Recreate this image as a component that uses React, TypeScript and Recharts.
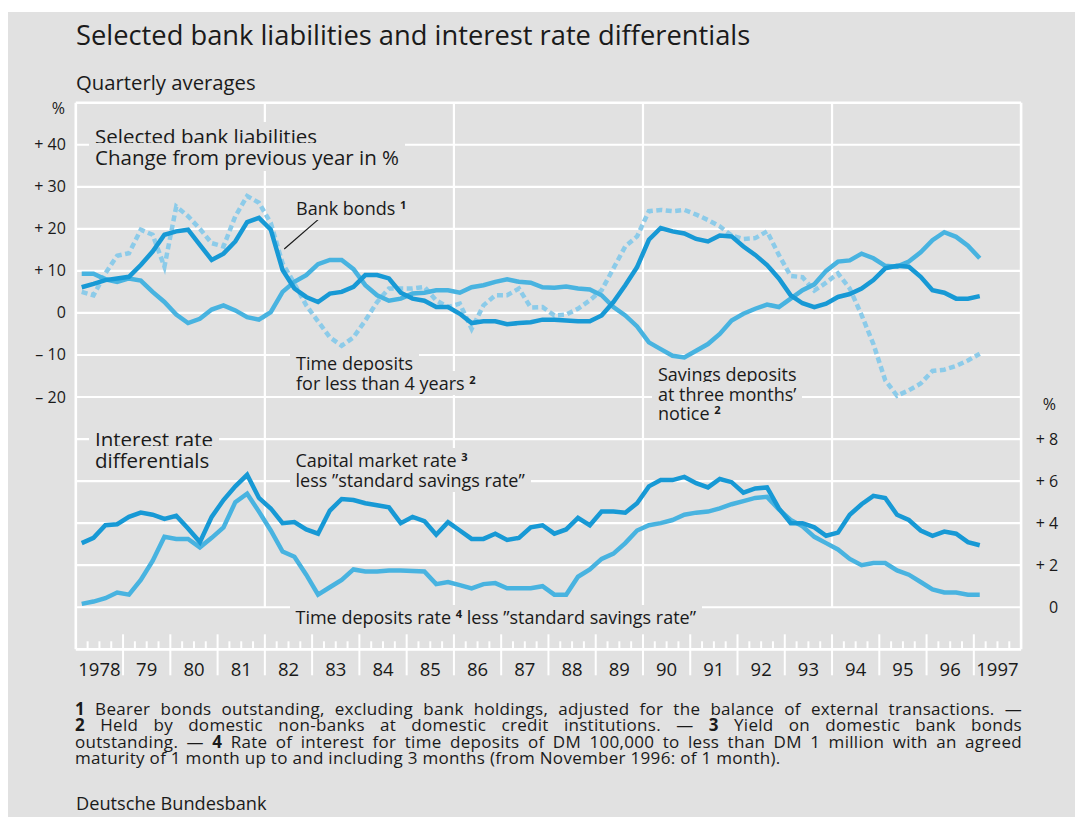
import React from "react"
import { LineChart, Line, XAxis, YAxis, ReferenceLine } from "recharts"

// quarterly averages, 1978 Q1 to 1997 Q1
const startYear = 1978
const endYear = 1998

// Selected bank liabilities, change from previous year in %
const bankBonds = [
  6.1, 6.9, 7.8, 8.2, 8.6, 11.4, 14.6, 18.6, 19.4, 19.8, 16.2, 12.6, 14.1, 17.0, 21.6, 22.6, 19.8, 10.2, 5.8, 3.8, 2.6,
  4.6, 5.0, 6.2, 9.0, 9.0, 8.2, 4.8, 3.4, 2.9, 1.4, 1.4, -0.2, -2.4, -2.0, -2.0, -2.7, -2.4, -2.2, -1.6, -1.6, -1.8,
  -2.0, -2.0, -0.6, 2.6, 6.6, 10.9, 17.4, 20.2, 19.4, 18.9, 17.6, 17.0, 18.4, 18.2, 15.8, 13.8, 11.4, 8.2, 4.2, 2.3,
  1.4, 2.2, 3.8, 4.5, 5.8, 7.8, 10.6, 11.2, 11.0, 8.6, 5.4, 4.8, 3.4, 3.4, 4.0,
]
const timeDeposits = [
  9.3, 9.3, 8.0, 7.4, 8.2, 7.7, 5.0, 2.6, -0.4, -2.4, -1.4, 0.8, 1.8, 0.6, -1.0, -1.6, 0.2, 5.0, 7.4, 9.0, 11.6,
  12.6, 12.6, 10.4, 6.6, 4.2, 2.9, 3.4, 4.6, 4.8, 5.4, 5.4, 4.8, 6.1, 6.6, 7.4, 8.0, 7.4, 7.2, 6.1, 6.0, 6.3,
  5.8, 5.6, 4.2, 1.4, -0.6, -3.2, -7.0, -8.6, -10.2, -10.6, -9.0, -7.4, -5.0, -1.8, -0.2, 1.0, 2.0, 1.4, 3.4, 5.4,
  6.8, 10.0, 12.2, 12.5, 14.1, 13.0, 11.2, 11.0, 12.2, 14.4, 17.3, 19.2, 18.1, 16.0, 13.0,
]
const savingsDeposits = [
  5.0, 4.2, 9.4, 13.6, 14.2, 19.8, 18.6, 11.0, 25.3, 23.0, 20.0, 16.6, 15.8, 23.0, 27.8, 26.2, 21.4, 11.8, 7.0, 1.8, -2.0,
  -5.8, -7.8, -5.8, -1.8, 2.6, 5.8, 5.8, 5.8, 6.2, 3.0, 1.4, 2.2, -3.8, 1.8, 4.2, 4.2, 5.8, 1.3, 1.4, -0.6, -0.4,
  1.0, 3.0, 5.4, 10.6, 15.8, 18.2, 24.2, 24.5, 24.2, 24.5, 23.4, 22.1, 20.6, 18.4, 17.6, 17.8, 19.4, 13.8, 8.8, 8.5,
  5.3, 7.2, 9.4, 5.8, -0.5, -7.4, -16.0, -19.7, -18.4, -16.8, -13.8, -13.5, -12.6, -11.3, -9.7,
]

// Interest rate differentials, percentage points
const capitalMarketSpread = [
  3.05, 3.3, 3.9, 3.95, 4.3, 4.5, 4.4, 4.2, 4.35, 3.75, 3.1, 4.3, 5.1, 5.75, 6.3, 5.2, 4.7, 4.0, 4.05, 3.7, 3.5, 4.6, 5.15, 5.1, 4.95, 4.85, 4.75,
  4.0, 4.3, 4.1, 3.45, 4.05, 3.65, 3.25, 3.25, 3.5, 3.2, 3.3, 3.8, 3.9, 3.5, 3.7, 4.25, 3.9, 4.55, 4.55, 4.5, 4.95, 5.75, 6.05, 6.05, 6.2, 5.9,
  5.7, 6.1, 5.95, 5.45, 5.65, 5.7, 4.7, 4.0, 4.0, 3.8, 3.4, 3.55, 4.4, 4.9, 5.3, 5.2, 4.4, 4.15, 3.65, 3.4, 3.6, 3.5, 3.1, 2.95,
]
const timeDepositSpread = [
  0.16, 0.27, 0.43, 0.7, 0.6, 1.3, 2.2, 3.35, 3.25, 3.25, 2.85, 3.3, 3.8, 5.0, 5.4, 4.55, 3.65, 2.65, 2.4, 1.55, 0.6, 0.95, 1.3, 1.8, 1.7, 1.7, 1.75,
  1.75, 1.73, 1.7, 1.1, 1.2, 1.05, 0.9, 1.1, 1.15, 0.9, 0.9, 0.9, 1.0, 0.6, 0.6, 1.45, 1.8, 2.3, 2.55, 3.05, 3.65, 3.9, 4.0, 4.15, 4.4, 4.5,
  4.55, 4.7, 4.9, 5.05, 5.2, 5.25, 4.65, 4.15, 3.85, 3.35, 3.05, 2.75, 2.3, 2.0, 2.1, 2.1, 1.75, 1.55, 1.2, 0.85, 0.7, 0.7, 0.6, 0.6,
]

const yearLabels = [
  "1978", "79", "80", "81", "82", "83", "84", "85", "86", "87",
  "88", "89", "90", "91", "92", "93", "94", "95", "96", "1997",
]
const leftTicks = [-20, -10, 0, 10, 20, 30, 40]
const rightTicks = [0, 2, 4, 6, 8]
const gridLevels = [40, 30, 20, 10, 0, -10, -20, -30, -40, -50, -60, -70]
const gridYears = [1982, 1986, 1990, 1994]

const quarterTicks = Array.from({ length: (endYear - startYear) * 4 + 1 }, (_, i) => startYear + i / 4)
const yearMids = yearLabels.map((_, i) => startYear + i + 0.5)

const data = bankBonds.map((v, i) => ({
  t: startYear + (i + 0.5) / 4,
  bankBonds: v,
  timeDeposits: timeDeposits[i],
  savings: savingsDeposits[i],
  capital: capitalMarketSpread[i],
  timeRate: timeDepositSpread[i],
}))

const BG = "#e1e1e1"
const INK = "#1a1a1a"
const FONT = "'Open Sans', 'Noto Sans', sans-serif"
const DARK = "#1799d5"
const MID = "#48b3e0"
const LIGHT = "#8ccbe9"

const signed = (v: number) => (v > 0 ? `+ ${v}` : v < 0 ? `– ${Math.abs(v)}` : "0")

function ValueTick({ x, y, payload }: any) {
  return (
    <text x={x} y={y} dy={5.5} textAnchor="end" fontSize={16} fill={INK} fontFamily={FONT}>
      {signed(payload.value)}
    </text>
  )
}

function QuarterTick({ x, y, payload }: any) {
  const v = payload.value
  const isYear = Math.abs(v - Math.round(v)) < 1e-6
  if (v === startYear || v === endYear) return <g />
  return <line x1={x} x2={x} y1={y - (isYear ? 15 : 8)} y2={y + (isYear ? 26 : 0)} stroke="#fff" strokeWidth={2} />
}

function YearTick({ x, y, index }: any) {
  return (
    <text x={x} y={y} dy={26} textAnchor="middle" fontSize={18.5} fill={INK} fontFamily={FONT}>
      {yearLabels[index]}
    </text>
  )
}

const Sup = ({ n }: { n: string }) => (
  <span style={{ fontSize: "0.62em", fontWeight: 700, verticalAlign: "0.55em", lineHeight: 0 }}>{n}</span>
)

function Note({ left, top, lines, size = 18, lh = 20 }: { left: number; top: number; lines: React.ReactNode[]; size?: number; lh?: number }) {
  return (
    <div style={{ position: "absolute", left, top, fontSize: size, lineHeight: `${lh}px`, color: INK, whiteSpace: "nowrap" }}>
      {lines.map((ln, k) => (
        <div key={k}>
          <span style={{ background: BG, padding: "0 6px" }}>{ln}</span>
        </div>
      ))}
    </div>
  )
}

const justified: React.CSSProperties = { textAlign: "justify", textAlignLast: "justify" }

export default function App() {
  return (
    <div style={{ position: "fixed", left: 8, top: 12, width: 1067, height: 805, background: BG, fontFamily: FONT, color: INK, overflow: "hidden" }}>
      <div style={{ position: "absolute", left: 0, top: 0 }}>
        <LineChart width={1067} height={805} data={data} margin={{ top: 90.7, right: 0, bottom: 126.7, left: 7.8 }}>
          <XAxis xAxisId="q" dataKey="t" type="number" domain={[startYear, endYear]} allowDataOverflow ticks={quarterTicks} interval={0}
            tick={<QuarterTick />} tickLine={false} axisLine={false} tickSize={0} tickMargin={0} height={1} />
          <XAxis xAxisId="yr" dataKey="t" type="number" domain={[startYear, endYear]} allowDataOverflow ticks={yearMids} interval={0}
            tick={<YearTick />} tickLine={false} axisLine={false} tickSize={0} tickMargin={0} height={40} />
          <YAxis yAxisId="left" type="number" domain={[-80, 50]} allowDataOverflow ticks={leftTicks} interval={0} width={60}
            tick={<ValueTick />} tickLine={false} axisLine={false} tickSize={0} tickMargin={10} />
          <YAxis yAxisId="right" orientation="right" type="number" domain={[-2, 24]} allowDataOverflow ticks={rightTicks} interval={0} width={53.9}
            tick={<ValueTick />} tickLine={false} axisLine={false} tickSize={0} tickMargin={37} />

          {gridLevels.map((g) => (
            <ReferenceLine key={`h${g}`} xAxisId="q" yAxisId="left" y={g} stroke="#fff" strokeWidth={2.2} />
          ))}
          {gridYears.map((yr) => (
            <ReferenceLine key={`v${yr}`} xAxisId="q" yAxisId="left" stroke="#fff" strokeWidth={2.2}
              segment={[{ x: yr, y: 50 }, { x: yr, y: -70 }]} />
          ))}
          <ReferenceLine xAxisId="q" yAxisId="left" y={50} stroke="#fff" strokeWidth={2.6} />
          <ReferenceLine xAxisId="q" yAxisId="left" y={-80} stroke="#fff" strokeWidth={2.8} />
          <ReferenceLine xAxisId="q" yAxisId="left" x={startYear} stroke="#fff" strokeWidth={2.6} />
          <ReferenceLine xAxisId="q" yAxisId="left" x={endYear} stroke="#fff" strokeWidth={2.6} />
          <ReferenceLine xAxisId="q" yAxisId="left" stroke={INK} strokeWidth={1.2}
            segment={[{ x: 1983.17, y: 22.6 }, { x: 1982.41, y: 15.2 }]} />

          <Line xAxisId="q" yAxisId="left" dataKey="savings" stroke={LIGHT} strokeWidth={4.5} strokeDasharray="6 3.5"
            dot={false} isAnimationActive={false} />
          <Line xAxisId="q" yAxisId="left" dataKey="timeDeposits" stroke={MID} strokeWidth={4.5}
            dot={false} isAnimationActive={false} />
          <Line xAxisId="q" yAxisId="left" dataKey="bankBonds" stroke={DARK} strokeWidth={4.5}
            dot={false} isAnimationActive={false} />
          <Line xAxisId="q" yAxisId="right" dataKey="timeRate" stroke={MID} strokeWidth={4.5}
            dot={false} isAnimationActive={false} />
          <Line xAxisId="q" yAxisId="right" dataKey="capital" stroke={DARK} strokeWidth={4.5}
            dot={false} isAnimationActive={false} />
        </LineChart>
      </div>

      <div style={{ position: "absolute", left: 68, top: 8.4, fontSize: 27.3, lineHeight: "30px", whiteSpace: "nowrap" }}>
        Selected bank liabilities and interest rate differentials
      </div>
      <div style={{ position: "absolute", left: 68, top: 59, fontSize: 20.3, lineHeight: "22px", whiteSpace: "nowrap" }}>Quarterly averages</div>
      <div style={{ position: "absolute", left: 30, width: 27, top: 87, fontSize: 16, lineHeight: "18px", textAlign: "right" }}>%</div>
      <div style={{ position: "absolute", left: 1020, width: 28, top: 383, fontSize: 16, lineHeight: "18px", textAlign: "right" }}>%</div>

      <Note left={81} top={113.5} size={20.5} lh={21} lines={["Selected bank liabilities", "Change from previous year in %"]} />
      <Note left={282} top={185.5} lh={21} lines={[<>Bank bonds <Sup n="1" /></>]} />
      <Note left={282} top={341} lines={["Time deposits", <>for less than 4 years <Sup n="2" /></>]} />
      <Note left={644} top={353} lh={19.5} lines={["Savings deposits", "at three months’", <>notice <Sup n="2" /></>]} />
      <Note left={81} top={417} size={20.5} lh={21} lines={["Interest rate", "differentials"]} />
      <Note left={281.5} top={438} lines={[<>Capital market rate <Sup n="3" /></>, "less ”standard savings rate”"]} />
      <Note left={281.5} top={595} lines={[<>Time deposits rate <Sup n="4" /> less ”standard savings rate”</>]} />

      <div style={{ position: "absolute", left: 67, top: 689, width: 947, fontSize: 17, letterSpacing: 0.3, lineHeight: "16.3px" }}>
        <div style={justified}><b>1</b> Bearer bonds outstanding, excluding bank holdings, adjusted for the balance of external transactions. —</div>
        <div style={justified}><b>2</b> Held by domestic non-banks at domestic credit institutions. — <b>3</b> Yield on domestic bank bonds</div>
        <div style={justified}>outstanding. — <b>4</b> Rate of interest for time deposits of DM 100,000 to less than DM 1 million with an agreed</div>
        <div>maturity of 1 month up to and including 3 months (from November 1996: of 1 month).</div>
      </div>
      <div style={{ position: "absolute", left: 68, top: 781, fontSize: 18.2, lineHeight: "20px", whiteSpace: "nowrap" }}>Deutsche Bundesbank</div>
    </div>
  )
}
